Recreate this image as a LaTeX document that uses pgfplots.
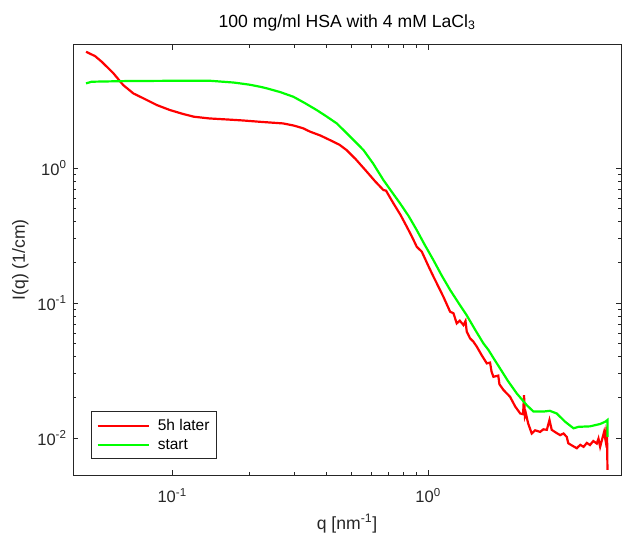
\documentclass[border=0pt]{standalone}
\usepackage{fontspec}
\setmainfont{Liberation Sans}
\usepackage{pgfplots}
\pgfplotsset{compat=1.18}
\definecolor{mgray}{RGB}{38,38,38}
\definecolor{mred}{RGB}{255,0,0}
\definecolor{mgreen}{RGB}{0,255,0}

\begin{document}
\begin{tikzpicture}
% picture frame 622 x 533 (1pt = 1px of the reference)
\useasboundingbox (-73pt,-58pt) rectangle (549pt,475pt);
\begin{axis}[
    at={(0,0)}, anchor=south west,
    scale only axis,
    width=548pt, height=430.3pt,
    xmode=log, ymode=log,
    xmin=0.041, xmax=5.67,
    ymin=0.00532, ymax=8.2,
    axis line style={mgray, line width=0.9pt},
    every tick/.style={mgray, line width=0.7pt},
    tick align=inside,
    major tick length=5pt,
    minor tick length=3.5pt,
    xtick={0.1,1},
    xticklabels={10\textsuperscript{-1},10\textsuperscript{0}},
    ytick={0.01,0.1,1},
    yticklabels={10\textsuperscript{-2},10\textsuperscript{-1},10\textsuperscript{0}},
    ticklabel style={font=\fontsize{16.5}{19}\selectfont, text=mgray},
    xticklabel style={yshift=-10pt},
    yticklabel style={xshift=-3pt},
    title={100 mg/ml HSA with 4 mM LaCl\textsubscript{3}},
    title style={at={(axis description cs:0.5,1)}, anchor=base, yshift=11.5pt,
        font=\fontsize{17.6}{20}\selectfont},
    xlabel={q [nm\textsuperscript{-1}]},
    xlabel style={at={(axis description cs:0.5,0)}, anchor=base, yshift=-54pt,
        font=\fontsize{17.6}{20}\selectfont, text=mgray},
    ylabel={I(q) (1/cm)},
    ylabel style={at={(axis description cs:0,0.5)}, anchor=base, yshift=48pt,
        font=\fontsize{17.6}{20}\selectfont, text=mgray},
    legend style={at={(axis description cs:0.0328,0.0372)}, anchor=south west,
        draw=mgray, line width=0.7pt, fill=white,
        font=\fontsize{15.5}{18}\selectfont, text=black,
        inner xsep=5pt, inner ysep=6pt, row sep=3pt, column sep=6pt},
    legend cell align={left},
    legend image code/.code={\draw[#1, line width=2.5pt] (0pt,0pt) -- (51pt,0pt);},
]
\addplot[mred, line width=2.2pt] coordinates {
(0.0461,7.27) (0.0500,6.75) (0.0531,6.13) (0.0560,5.55) (0.059,5.03)
(0.0644,4.12) (0.0706,3.57) (0.0774,3.28) (0.0871,2.93) (0.098,2.69)
(0.110,2.52) (0.1216,2.40) (0.140,2.33) (0.164,2.29) (0.190,2.25)
(0.221,2.20) (0.272,2.14) (0.300,2.06) (0.325,1.97) (0.346,1.86)
(0.380,1.74) (0.414,1.61) (0.45,1.49) (0.48,1.36) (0.52,1.17)
(0.576,0.94) (0.62,0.80) (0.669,0.687) (0.685,0.68) (0.732,0.548)
(0.78,0.45) (0.826,0.367) (0.865,0.31) (0.903,0.261) (0.945,0.24)
(1.0,0.19) (1.049,0.157) (1.10,0.131) (1.148,0.111) (1.219,0.0862)
(1.256,0.084) (1.294,0.0707) (1.33,0.074) (1.374,0.0687) (1.40,0.0735)
(1.416,0.0613) (1.459,0.0547) (1.50,0.052) (1.55,0.0475) (1.62,0.041)
(1.696,0.0357) (1.746,0.0362) (1.77,0.031) (1.80,0.0284) (1.88,0.0290)
(1.90,0.025) (1.97,0.0227) (2.09,0.0202) (2.19,0.0171) (2.29,0.0152)
(2.35,0.0150) (2.37,0.0208) (2.39,0.0145) (2.41,0.0152) (2.46,0.0128)
(2.54,0.0108) (2.62,0.0114) (2.74,0.0111) (2.82,0.0116) (2.91,0.0115)
(2.98,0.0136) (3.04,0.0115) (3.15,0.0110) (3.28,0.0105) (3.38,0.0108)
(3.48,0.0102) (3.53,0.00914) (3.65,0.0088) (3.81,0.0084) (3.93,0.0089)
(4.05,0.0086) (4.17,0.0092) (4.29,0.00887) (4.42,0.0095) (4.56,0.0091)
(4.63,0.0099) (4.7,0.0086) (4.80,0.0100) (4.87,0.0111) (4.93,0.0097)
(4.97,0.0115) (5.0,0.0111) (5.02,0.0058)
};
\addlegendentry{5h later}
\addplot[mgreen, line width=2.2pt] coordinates {
(0.0461,4.24) (0.0485,4.36) (0.0664,4.41) (0.10,4.43) (0.141,4.43)
(0.174,4.30) (0.200,4.15) (0.221,4.0) (0.235,3.89) (0.265,3.65)
(0.298,3.37) (0.330,3.03) (0.367,2.69) (0.40,2.42) (0.44,2.14)
(0.496,1.71) (0.559,1.36) (0.61,1.08) (0.669,0.815) (0.72,0.67)
(0.777,0.548) (0.84,0.44) (0.903,0.347) (0.97,0.27) (1.049,0.208)
(1.13,0.160) (1.219,0.125) (1.32,0.099) (1.416,0.081) (1.53,0.063)
(1.644,0.0503) (1.72,0.0450) (1.81,0.0385) (1.91,0.0328) (2.05,0.0265)
(2.22,0.0214) (2.43,0.0175) (2.58,0.0157) (2.82,0.0157) (2.99,0.0159)
(3.18,0.0152) (3.43,0.0132) (3.70,0.0118) (3.87,0.0121) (4.29,0.0122)
(4.7,0.0127) (4.92,0.0132) (5.02,0.0136) (5.02,0.0102)
};
\addlegendentry{start}
\end{axis}
\end{tikzpicture}
\end{document}
